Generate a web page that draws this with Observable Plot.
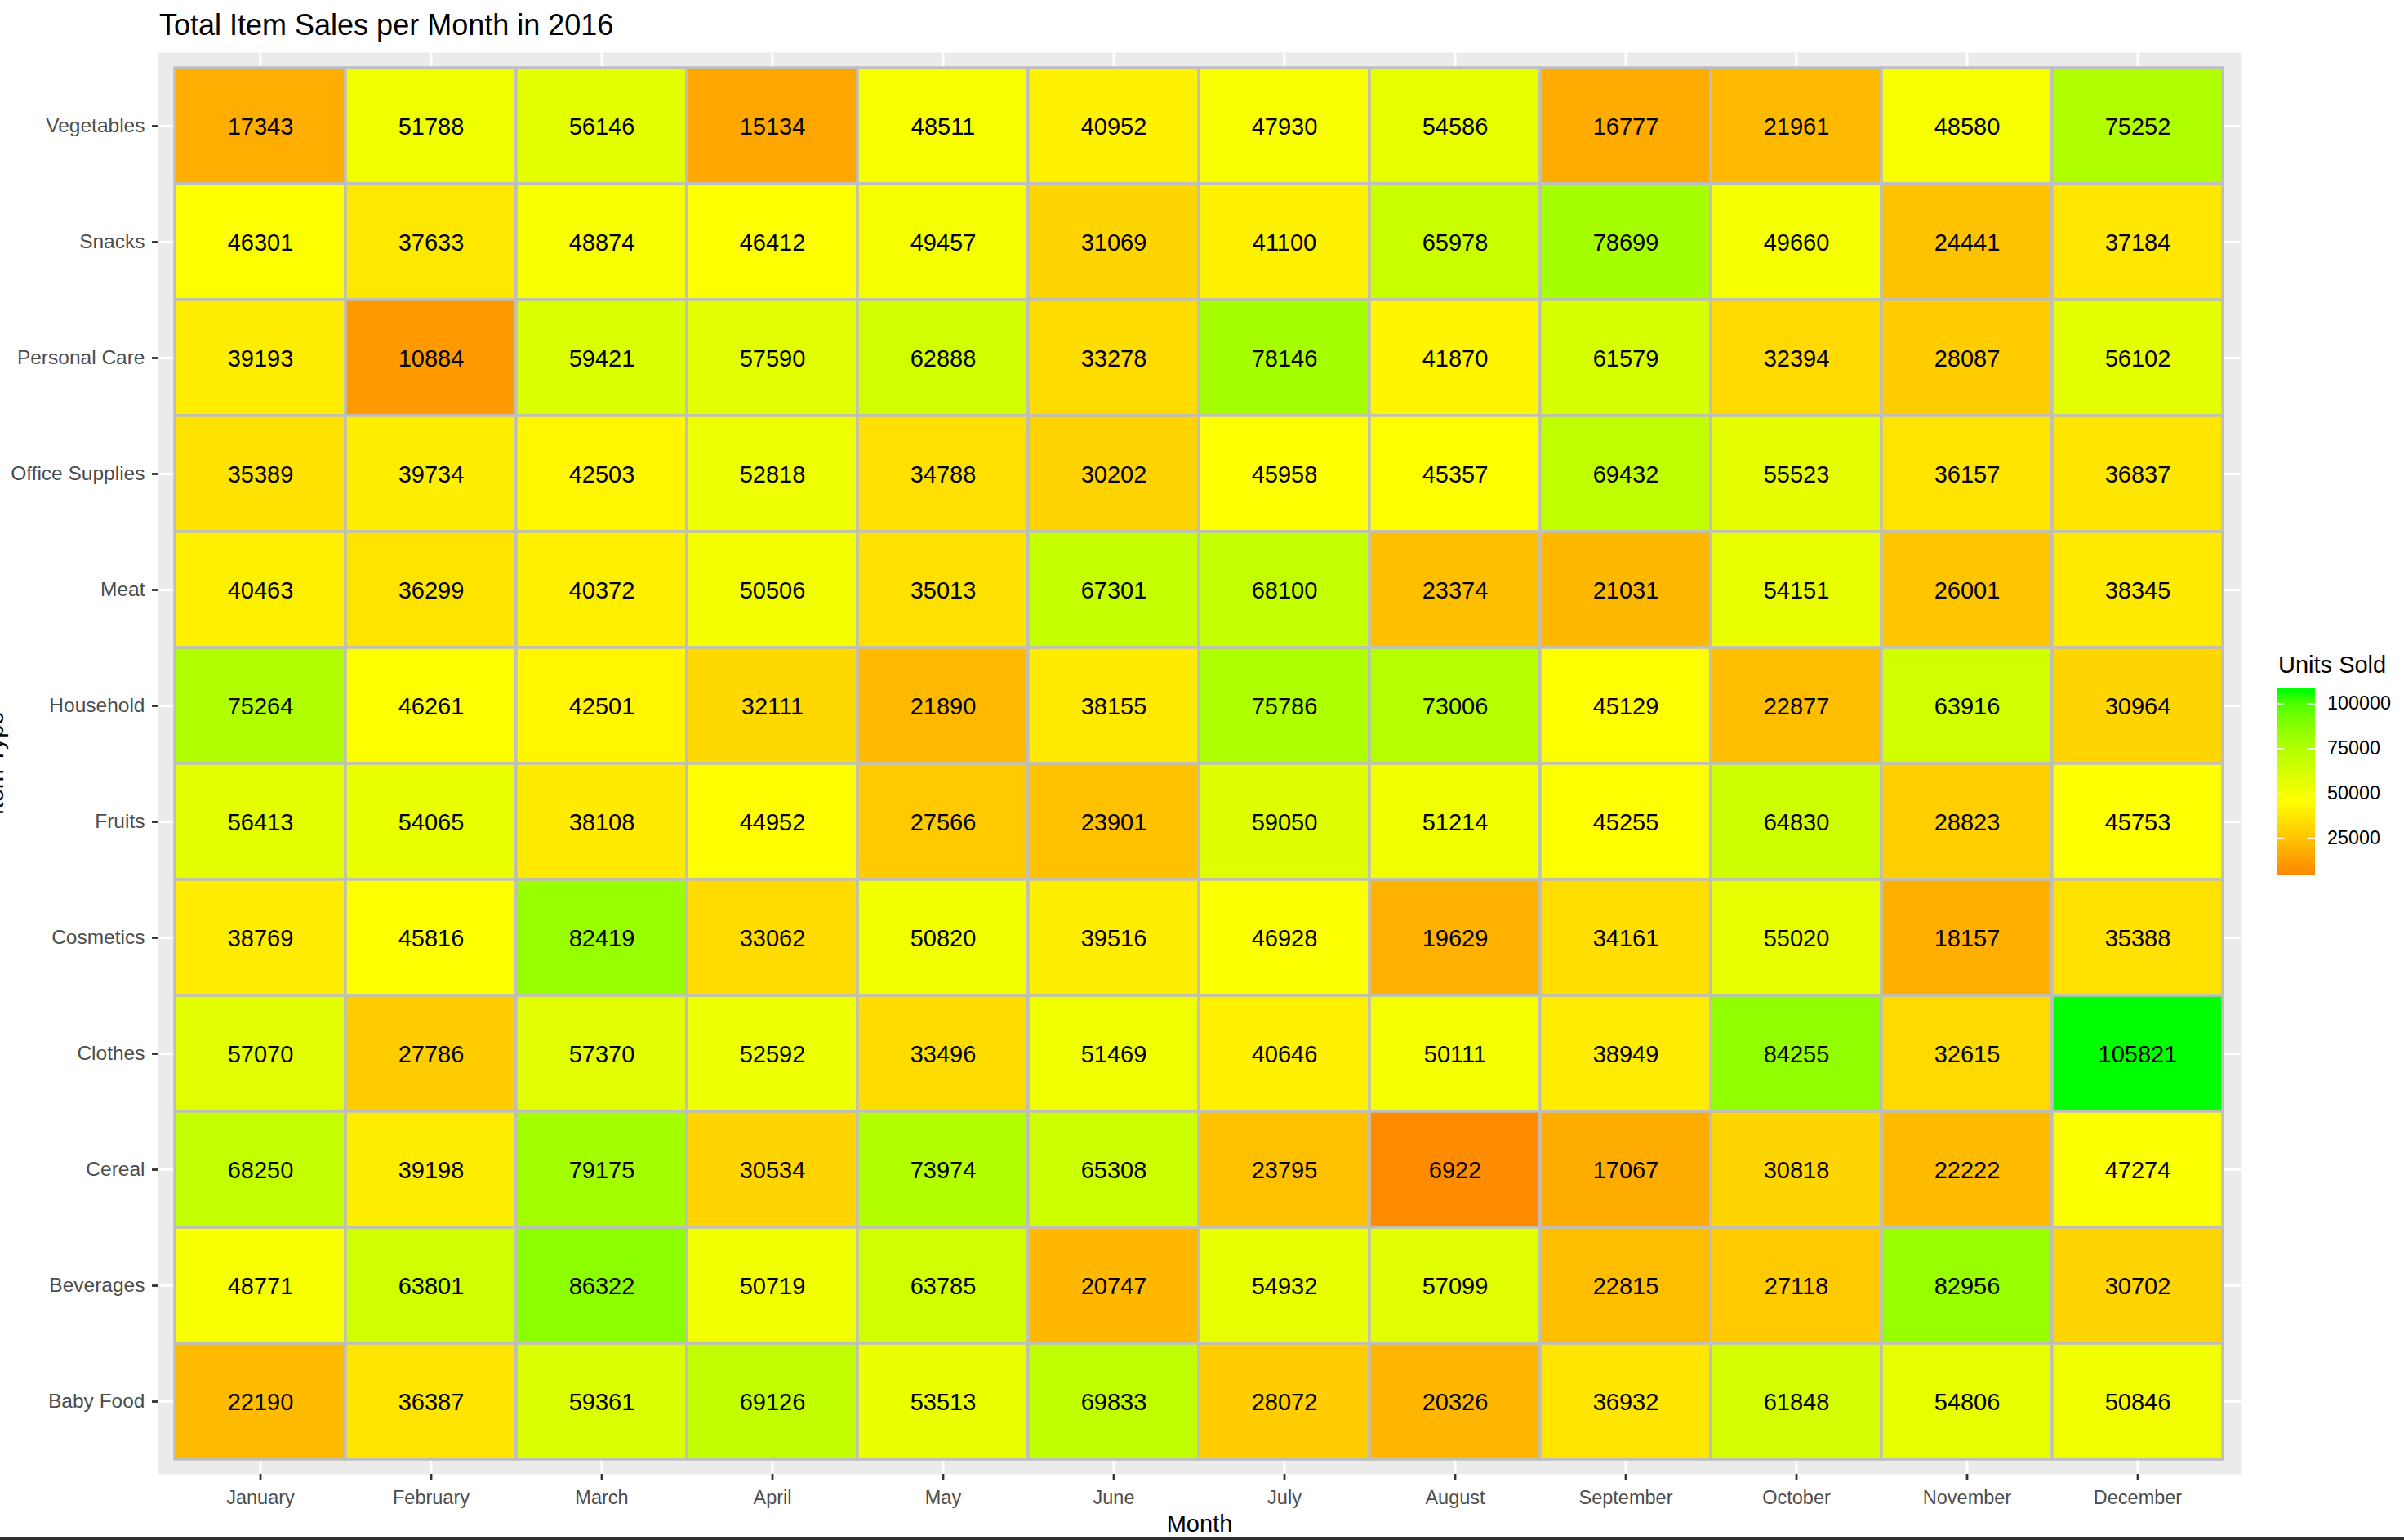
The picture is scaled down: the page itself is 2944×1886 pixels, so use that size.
<!DOCTYPE html>
<html>
<head>
<meta charset="utf-8">
<script src="https://cdn.jsdelivr.net/npm/d3@7"></script>
<script src="https://cdn.jsdelivr.net/npm/@observablehq/plot@0.6"></script>
<style>
  html, body { margin: 0; padding: 0; background: #ffffff; }
  #wrap { position: relative; width: 2944px; height: 1886px; overflow: hidden; background: #ffffff;
          font-family: "Liberation Sans", Arial, Helvetica, sans-serif; }
  #title { position: absolute; left: 195px; top: 13px; font-size: 36px; line-height: 36px; color: #000; white-space: nowrap; }
  #legendTitle { position: absolute; left: 2790px; top: 800px; font-size: 29px; line-height: 29px; color: #000; white-space: nowrap; }
  #chart { position: absolute; left: 0; top: 0; }
  #legend { position: absolute; left: 2789px; top: 833px; }
  #band { position: absolute; left: 0; top: 1882px; width: 2944px; height: 4px; background: #303030; }
</style>
</head>
<body>
<div id="wrap">
  <div id="chart"></div>
  <div id="title">Total Item Sales per Month in 2016</div>
  <div id="legendTitle">Units Sold</div>
  <div id="legend"></div>
  <div id="band"></div>
</div>
<script>
// ---- data ----
const months = ["January", "February", "March", "April", "May", "June", "July", "August", "September", "October", "November", "December"];
const itemTypes = ["Vegetables", "Snacks", "Personal Care", "Office Supplies", "Meat", "Household", "Fruits", "Cosmetics", "Clothes", "Cereal", "Beverages", "Baby Food"];

const vegetables     = [17343, 51788, 56146, 15134, 48511, 40952, 47930, 54586, 16777, 21961, 48580, 75252];
const snacks         = [46301, 37633, 48874, 46412, 49457, 31069, 41100, 65978, 78699, 49660, 24441, 37184];
const personalCare   = [39193, 10884, 59421, 57590, 62888, 33278, 78146, 41870, 61579, 32394, 28087, 56102];
const officeSupplies = [35389, 39734, 42503, 52818, 34788, 30202, 45958, 45357, 69432, 55523, 36157, 36837];
const meat           = [40463, 36299, 40372, 50506, 35013, 67301, 68100, 23374, 21031, 54151, 26001, 38345];
const household      = [75264, 46261, 42501, 32111, 21890, 38155, 75786, 73006, 45129, 22877, 63916, 30964];
const fruits         = [56413, 54065, 38108, 44952, 27566, 23901, 59050, 51214, 45255, 64830, 28823, 45753];
const cosmetics      = [38769, 45816, 82419, 33062, 50820, 39516, 46928, 19629, 34161, 55020, 18157, 35388];
const clothes        = [57070, 27786, 57370, 52592, 33496, 51469, 40646, 50111, 38949, 84255, 32615, 105821];
const cereal         = [68250, 39198, 79175, 30534, 73974, 65308, 23795, 6922, 17067, 30818, 22222, 47274];
const beverages      = [48771, 63801, 86322, 50719, 63785, 20747, 54932, 57099, 22815, 27118, 82956, 30702];
const babyFood       = [22190, 36387, 59361, 69126, 53513, 69833, 28072, 20326, 36932, 61848, 54806, 50846];

const legendTicks = [25000, 50000, 75000, 100000];

// ---- build table ----
const rows = [vegetables, snacks, personalCare, officeSupplies, meat, household, fruits, cosmetics, clothes, cereal, beverages, babyFood];
const data = itemTypes.flatMap((item, i) => rows[i].map((value, j) => ({month: months[j], item, value})));

const lo = d3.min(data, d => d.value);
const hi = d3.max(data, d => d.value);
const mid = d3.mean(data, d => d.value);

const FONT = '"Liberation Sans", Arial, Helvetica, sans-serif';
const colorOpts = {type: "linear", domain: [lo, mid, hi], range: ["#ff8c00", "#ffff00", "#00ff00"], interpolate: "lab", clamp: true};

const W = 2944, H = 1882;
const mL = 193, mR = 200, mT = 64, mB = 77;
const insX = (W - mL - mR) * 0.1 / 12.2;
const insY = (H - mT - mB) * 0.1 / 12.2;

const chart = Plot.plot({
  width: W,
  height: H,
  marginLeft: mL,
  marginRight: mR,
  marginTop: mT,
  marginBottom: mB,
  style: {fontFamily: FONT, background: "transparent", overflow: "visible"},
  x: {type: "band", domain: months, padding: 0, inset: insX, label: null},
  y: {type: "band", domain: itemTypes, padding: 0, inset: insY, label: null},
  color: colorOpts,
  marks: [
    Plot.frame({fill: "#EBEBEB", stroke: null}),
    Plot.gridX({stroke: "#ffffff", strokeOpacity: 1, strokeWidth: 2.8}),
    Plot.gridY({stroke: "#ffffff", strokeOpacity: 1, strokeWidth: 2.8}),
    Plot.cell(data, {x: "month", y: "item", fill: "value", stroke: "#BEBEBE", strokeWidth: 3.5, inset: 0}),
    Plot.text(data, {x: "month", y: "item", text: d => String(d.value), fontSize: 29, fill: "#000000", dy: 1}),
    Plot.axisX({anchor: "bottom", tickSize: 7, tickPadding: 13, fontSize: 23.5, stroke: "#333333", color: "#4D4D4D", strokeWidth: 2.8, label: null}),
    Plot.axisY({anchor: "left", tickSize: 7, tickPadding: 9, fontSize: 24.5, stroke: "#333333", color: "#4D4D4D", strokeWidth: 2.8, label: null}),
    Plot.text(["Month"], {frameAnchor: "bottom", lineAnchor: "middle", dy: 61, fontSize: 29, fill: "#000000"}),
    Plot.text(["Item Type"], {frameAnchor: "left", lineAnchor: "middle", textAnchor: "middle", rotate: -90, dx: -199, fontSize: 29, fill: "#000000"})
  ]
});
document.getElementById("chart").appendChild(chart);

// ---- vertical colour bar legend (ggplot colourbar: limits sit at the centres of the end bins, nbin = 20) ----
const pad = (hi - lo) * 0.5 / 19;
const bLo = lo - pad, bHi = hi + pad;
const nBins = 230;
const bins = d3.range(nBins).map(i => ({
  y1: bLo + (bHi - bLo) * i / nBins,
  y2: bLo + (bHi - bLo) * (i + 1) / nBins,
  v: bLo + (bHi - bLo) * (i + 0.5) / nBins
}));

const legend = Plot.plot({
  width: 46 + 110,
  height: 230 + 20,
  marginLeft: 0,
  marginRight: 110,
  marginTop: 10,
  marginBottom: 10,
  style: {fontFamily: FONT, background: "transparent", overflow: "visible"},
  x: {domain: [0, 1], axis: null},
  y: {domain: [bLo, bHi], axis: null},
  color: colorOpts,
  marks: [
    Plot.rect(bins, {x1: 0, x2: 1, y1: "y1", y2: "y2", fill: "v", stroke: "v", strokeWidth: 0.6, shapeRendering: "crispEdges"}),
    Plot.ruleY(legendTicks, {x1: 0, x2: 0.17, stroke: "#ffffff", strokeWidth: 1.6}),
    Plot.ruleY(legendTicks, {x1: 0.8, x2: 1, stroke: "#ffffff", strokeWidth: 1.6}),
    Plot.axisY(legendTicks, {anchor: "right", tickSize: 0, tickPadding: 15, fontSize: 23.5, color: "#000000", tickFormat: d3.format("d"), label: null})
  ]
});
document.getElementById("legend").appendChild(legend);
</script>
</body>
</html>
